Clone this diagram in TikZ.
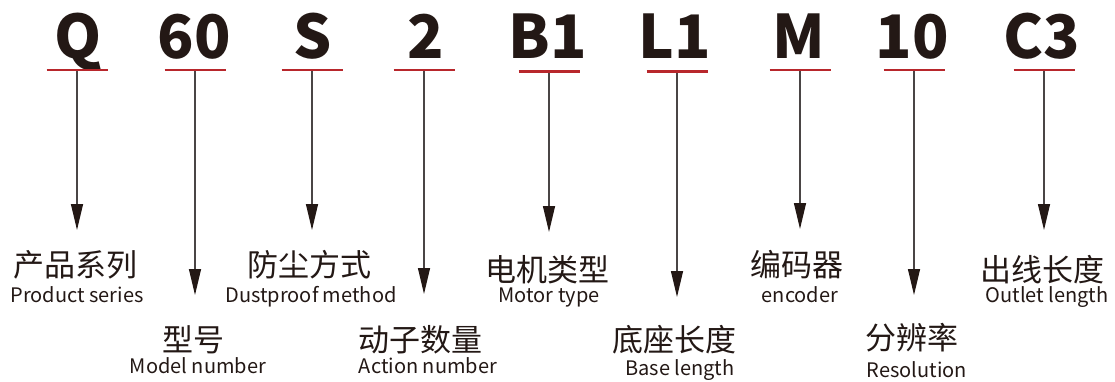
\documentclass[tikz,border=0pt]{standalone}
\usepackage{fontspec}
\newfontfamily\cjk{Noto Sans CJK SC}
\usetikzlibrary{arrows.meta}
\definecolor{ink}{HTML}{231815}
\definecolor{redline}{HTML}{B8272C}
\definecolor{stem}{HTML}{4A4545}
\tikzset{
  code/.style={font=\cjk\bfseries\fontsize{60}{60}\selectfont, text=ink, inner sep=0pt, anchor=base},
  zh/.style={font=\cjk\fontsize{31}{31}\selectfont, text=ink, inner sep=0pt, anchor=base},
  en/.style={font=\cjk\fontsize{20}{20}\selectfont, text=ink, inner sep=0pt, anchor=base},
  pointer/.style={draw=stem, line width=1.3pt, -{Triangle[length=26pt,width=12pt,fill=ink,color=ink]}},
  uline/.style={draw=redline, line width=2.8pt}
}
\begin{document}
\begin{tikzpicture}[x=1pt,y=-1pt]
\useasboundingbox (0,0) rectangle (1115,381);
% code letters
\node[code] (cq) at (78,58) {Q};
\node[code] (c60) at (194,58) {60};
\node[code] (cs) at (313,58) {S};
\node[code] (c2) at (426,58) {2};
\node[code] (cb) at (548,58) {B1};
\node[code] (cl) at (675,58) {L1};
\node[code] (cm) at (799,58) {M};
\node[code] (c10) at (912,58) {10};
\node[code] (cc) at (1042,58) {C3};
% underline centres and arrow tips
\coordinate (uq) at (77,70);   \coordinate (tq) at (77,230);
\coordinate (u60) at (195,70); \coordinate (t60) at (195,295);
\coordinate (us) at (312,70);  \coordinate (ts) at (312,230);
\coordinate (u2) at (424,70);  \coordinate (t2) at (424,294);
\coordinate (ub) at (549,71.5);  \coordinate (tb) at (549,232);
\coordinate (ul) at (677,71.5);  \coordinate (tl) at (677,297);
\coordinate (um) at (800,70);  \coordinate (tm) at (800,229);
\coordinate (u10) at (914,70); \coordinate (t10) at (914,295);
\coordinate (uc) at (1044,70); \coordinate (tc) at (1044,230);
\foreach \n in {q,60,s,2,b,l,m,10,c}{
  \draw[pointer] (u\n) -- (t\n);
  \draw[uline] ([xshift=-30.5pt]u\n) -- ([xshift=30.5pt]u\n);
}
% labels
\node[zh] (zq) at (75,276) {产品系列};
\node[en] (eq) at (77,302) {Product series};
\node[zh] (z60) at (193,351) {型号};
\node[en] (e60) at (198,373) {Model number};
\node[zh] (zs) at (309,276) {防尘方式};
\node[en] (es) at (311,302) {Dustproof method};
\node[zh] (z2) at (420,351) {动子数量};
\node[en] (e2) at (428,373) {Action number};
\node[zh] (zb) at (547,281) {电机类型};
\node[en] (eb) at (549,302) {Motor type};
\node[zh] (zl) at (674,351) {底座长度};
\node[en] (el) at (680,375) {Base length};
\node[zh] (zm) at (797,276) {编码器};
\node[en] (em) at (800,302) {encoder};
\node[zh] (z10) at (912,349) {分辨率};
\node[en] (e10) at (917,377) {Resolution};
\node[zh] (zc) at (1042,281) {出线长度};
\node[en] (ec) at (1047,302) {Outlet length};
\end{tikzpicture}
\end{document}
